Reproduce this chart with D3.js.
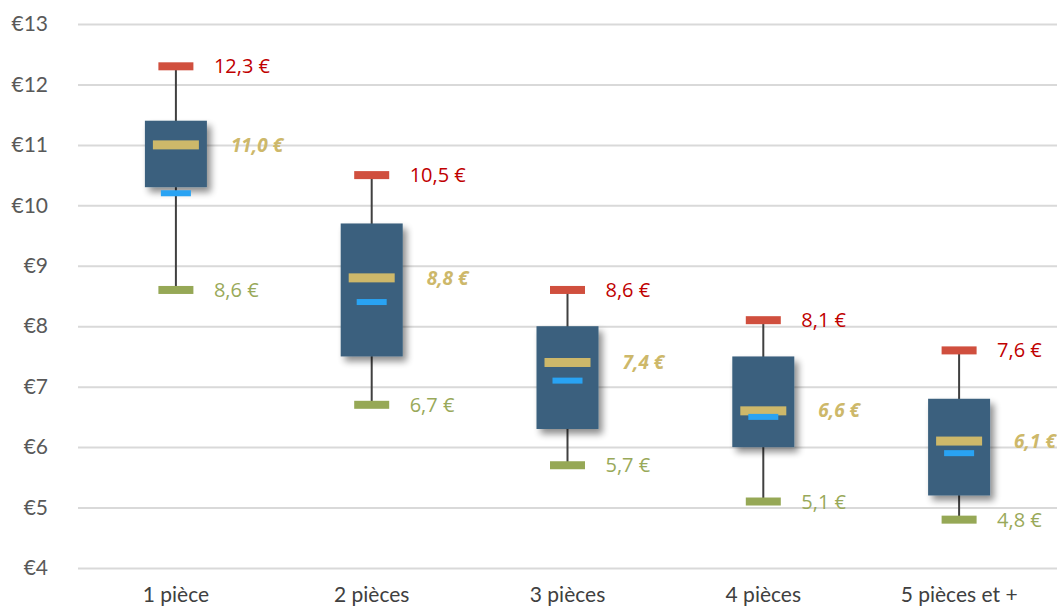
<!DOCTYPE html>
<html>
<head>
<meta charset="utf-8">
<script src="https://cdn.jsdelivr.net/npm/d3@7"></script>
<style>
  html, body { margin: 0; padding: 0; background: #fff; }
  svg { display: block; }
</style>
</head>
<body>
<svg id="chart" width="1057" height="610"></svg>
<script>
// Prix au m² par nombre de pièces : min, quartiles, médiane, moyenne, max
const categories = ["1 pièce", "2 pièces", "3 pièces", "4 pièces", "5 pièces et +"];
const maxValues    = [12.3, 10.5, 8.6, 8.1, 7.6];
const q3Values     = [11.4, 9.7, 8.0, 7.5, 6.8];
const medianValues = [11.0, 8.8, 7.4, 6.6, 6.1];
const meanValues   = [10.2, 8.4, 7.1, 6.5, 5.9];
const q1Values     = [10.3, 7.5, 6.3, 6.0, 5.2];
const minValues    = [8.6, 6.7, 5.7, 5.1, 4.8];
const yTicks = [4, 5, 6, 7, 8, 9, 10, 11, 12, 13];

const rows = categories.map((c, i) => ({
  cat: c, max: maxValues[i], q3: q3Values[i], median: medianValues[i],
  mean: meanValues[i], q1: q1Values[i], min: minValues[i]
}));

const svg = d3.select("#chart");
const W = 1057, H = 610;
const plotLeft = 78, plotRight = W, plotTop = 24, plotBottom = 568;

const x = d3.scaleBand().domain(categories).range([plotLeft, plotRight]);
const y = d3.scaleLinear().domain([4, 13]).range([plotBottom, plotTop]);
const cx = d => x(d.cat) + x.bandwidth() / 2;
const fmt = v => v.toFixed(1).replace(".", ",") + " €";

const defs = svg.append("defs");
const shadow = defs.append("filter").attr("id", "boxShadow")
  .attr("x", "-30%").attr("y", "-30%").attr("width", "170%").attr("height", "170%");
shadow.append("feGaussianBlur").attr("in", "SourceAlpha").attr("stdDeviation", 3.5);
shadow.append("feOffset").attr("dx", 4).attr("dy", 5).attr("result", "off");
shadow.append("feComponentTransfer").append("feFuncA").attr("type", "linear").attr("slope", 0.45);
const merge = shadow.append("feMerge");
merge.append("feMergeNode");
merge.append("feMergeNode").attr("in", "SourceGraphic");

// Grille horizontale et graduations en euros
const yAxis = d3.axisLeft(y).tickValues(yTicks).tickFormat(d => "€" + d)
  .tickSize(-(plotRight - plotLeft)).tickPadding(30);
const gy = svg.append("g").attr("transform", `translate(${plotLeft},0)`).call(yAxis);
gy.select(".domain").remove();
gy.selectAll(".tick line").attr("stroke", "#d9d9d9").attr("stroke-width", 2);
gy.selectAll(".tick text").attr("fill", "#595959")
  .style("font-family", "Lato, 'Open Sans', sans-serif").style("font-size", "21px");

// Libellés des catégories
const xAxis = d3.axisBottom(x).tickSize(0).tickPadding(0);
const gx = svg.append("g").attr("transform", `translate(0,${plotBottom + 19})`).call(xAxis);
gx.select(".domain").remove();
gx.selectAll(".tick text").attr("fill", "#404040")
  .style("font-family", "Lato, 'Open Sans', sans-serif").style("font-size", "21px");

const g = svg.append("g");
const boxes = g.selectAll(".box").data(rows).join("g").attr("class", "box");

// Moustaches
boxes.append("line")
  .attr("x1", cx).attr("x2", cx)
  .attr("y1", d => y(d.max)).attr("y2", d => y(d.min))
  .attr("stroke", "#404040").attr("stroke-width", 2);

// Boîtes interquartiles
const boxW = 62;
boxes.append("rect")
  .attr("x", d => cx(d) - boxW / 2).attr("width", boxW)
  .attr("y", d => y(d.q3)).attr("height", d => y(d.q1) - y(d.q3))
  .attr("fill", "#3a607e").attr("filter", "url(#boxShadow)");

// Médiane
boxes.append("rect")
  .attr("x", d => cx(d) - 23).attr("width", 46)
  .attr("y", d => y(d.median) - 4.5).attr("height", 9)
  .attr("fill", "#cdb86a");

// Moyenne
boxes.append("rect")
  .attr("x", d => cx(d) - 15).attr("width", 30)
  .attr("y", d => y(d.mean) - 3).attr("height", 6)
  .attr("fill", "#29a3f3");

// Maximum et minimum
boxes.append("rect")
  .attr("x", d => cx(d) - 17.5).attr("width", 35)
  .attr("y", d => y(d.max) - 4).attr("height", 8)
  .attr("fill", "#d04f3e");
boxes.append("rect")
  .attr("x", d => cx(d) - 17.5).attr("width", 35)
  .attr("y", d => y(d.min) - 4).attr("height", 8)
  .attr("fill", "#96a856");

// Étiquettes de valeurs
const labelFont = "'Open Sans', Lato, sans-serif";
boxes.append("text")
  .attr("x", d => cx(d) + 38).attr("y", d => y(d.max)).attr("dy", "0.35em")
  .attr("fill", "#c00000").style("font-family", labelFont).style("font-size", "20px")
  .text(d => fmt(d.max));
boxes.append("text")
  .attr("x", d => cx(d) + 38).attr("y", d => y(d.min)).attr("dy", "0.35em")
  .attr("fill", "#99a95a").style("font-family", labelFont).style("font-size", "20px")
  .text(d => fmt(d.min));
boxes.append("text")
  .attr("x", d => cx(d) + 55).attr("y", d => y(d.median)).attr("dy", "0.35em")
  .attr("fill", "#cdb86a").style("font-family", labelFont).style("font-size", "19px")
  .style("font-weight", "bold").style("font-style", "italic")
  .text(d => fmt(d.median));
</script>
</body>
</html>
